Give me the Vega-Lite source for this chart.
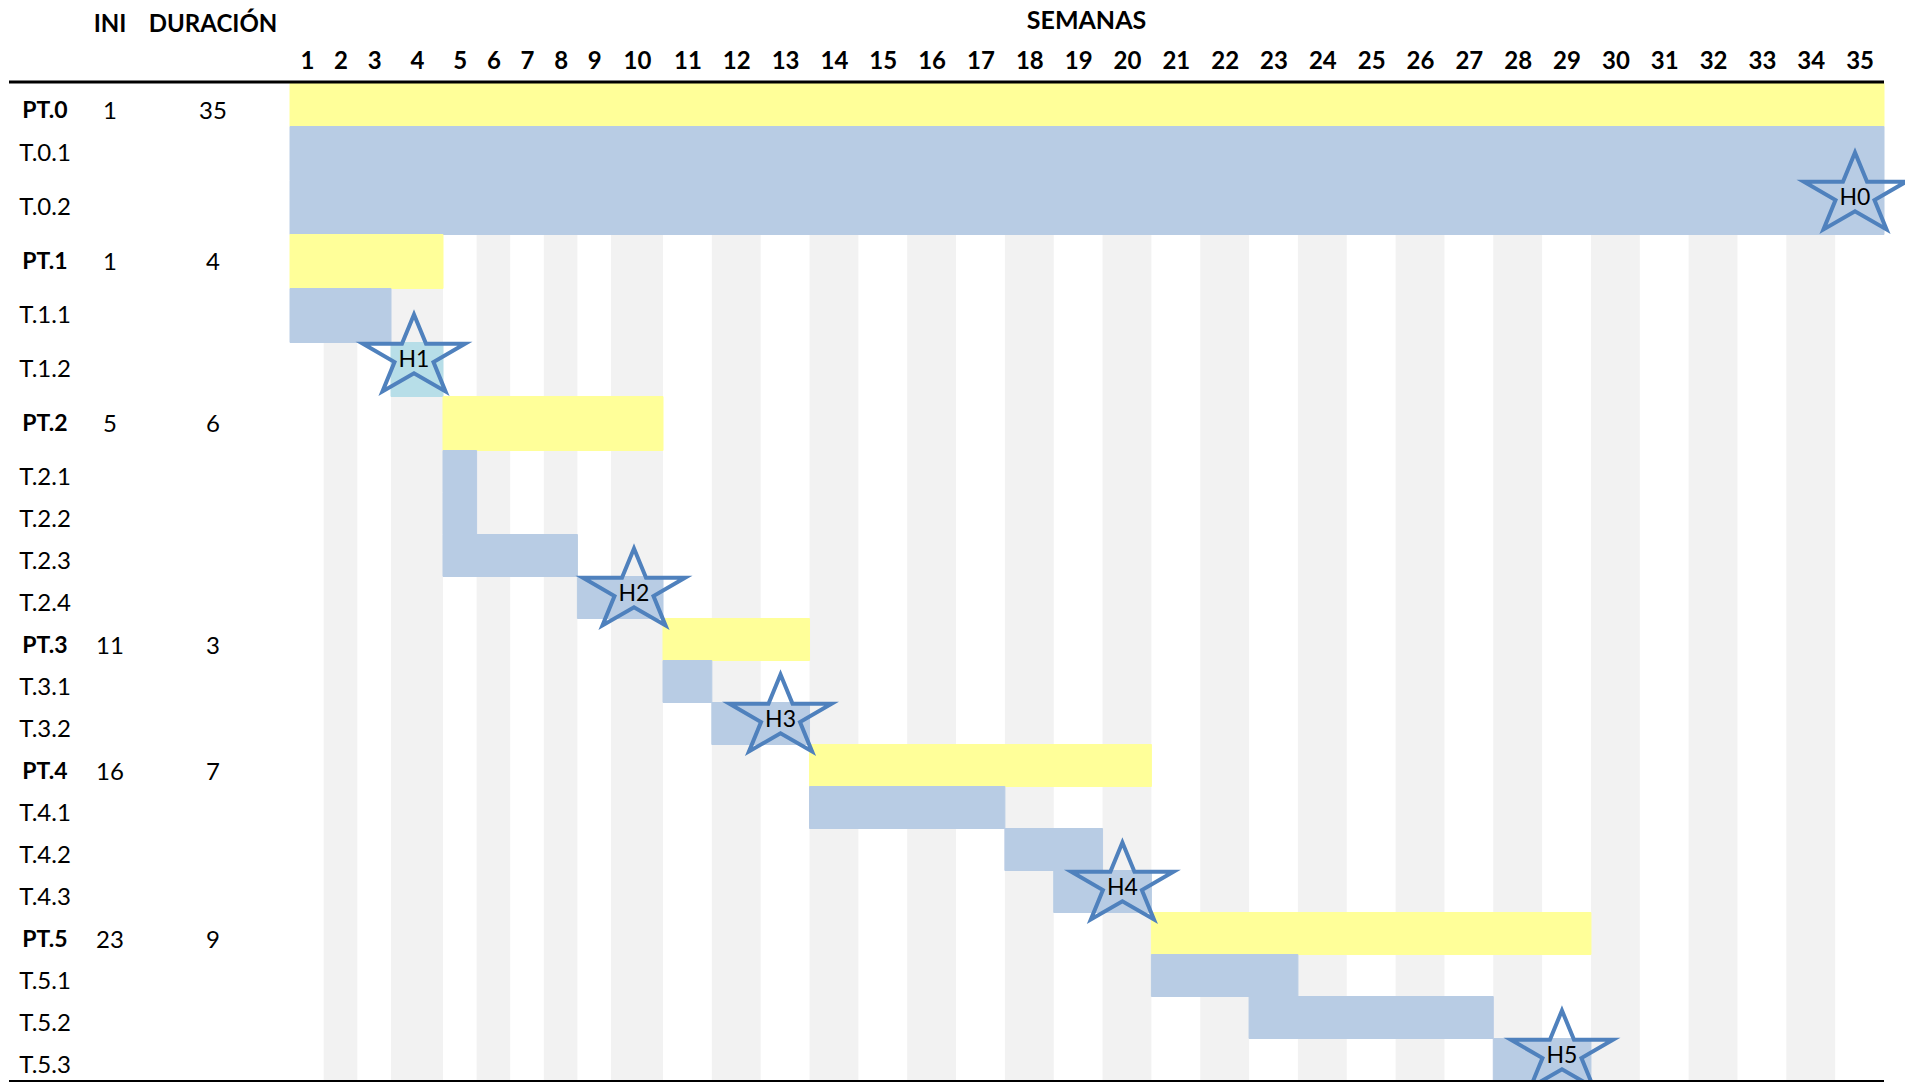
{
  "$schema": "https://vega.github.io/schema/vega-lite/v6.json",
  "width": 1875,
  "height": 997,
  "autosize": {"type": "none"},
  "padding": {"left": 9, "top": 83, "right": 21, "bottom": 2},
  "background": "#ffffff",
  "config": {"view": {"stroke": null}, "font": "Lato"},
  "datasets": {
    "tareas": [
      {"tarea": "PT.0", "tipo": "PT", "fila": 0, "ini": 1, "dur": 35, "desde": 0, "hasta": 35},
      {"tarea": "T.0.1", "tipo": "T", "fila": 1, "desde": 0, "hasta": 35},
      {"tarea": "T.0.2", "tipo": "T", "fila": 2, "desde": 0, "hasta": 35},
      {"tarea": "PT.1", "tipo": "PT", "fila": 3, "ini": 1, "dur": 4, "desde": 0, "hasta": 4},
      {"tarea": "T.1.1", "tipo": "T", "fila": 4, "desde": 0, "hasta": 3},
      {"tarea": "T.1.2", "tipo": "T", "fila": 5, "desde": 3, "hasta": 4},
      {"tarea": "PT.2", "tipo": "PT", "fila": 6, "ini": 5, "dur": 6, "desde": 4, "hasta": 10},
      {"tarea": "T.2.1", "tipo": "T", "fila": 7, "desde": 4, "hasta": 5},
      {"tarea": "T.2.2", "tipo": "T", "fila": 8, "desde": 4, "hasta": 5},
      {"tarea": "T.2.3", "tipo": "T", "fila": 9, "desde": 4, "hasta": 8},
      {"tarea": "T.2.4", "tipo": "T", "fila": 10, "desde": 8, "hasta": 10},
      {"tarea": "PT.3", "tipo": "PT", "fila": 11, "ini": 11, "dur": 3, "desde": 10, "hasta": 13},
      {"tarea": "T.3.1", "tipo": "T", "fila": 12, "desde": 10, "hasta": 11},
      {"tarea": "T.3.2", "tipo": "T", "fila": 13, "desde": 11, "hasta": 13},
      {"tarea": "PT.4", "tipo": "PT", "fila": 14, "ini": 16, "dur": 7, "desde": 13, "hasta": 20},
      {"tarea": "T.4.1", "tipo": "T", "fila": 15, "desde": 13, "hasta": 17},
      {"tarea": "T.4.2", "tipo": "T", "fila": 16, "desde": 17, "hasta": 19},
      {"tarea": "T.4.3", "tipo": "T", "fila": 17, "desde": 18, "hasta": 20},
      {"tarea": "PT.5", "tipo": "PT", "fila": 18, "ini": 23, "dur": 9, "desde": 20, "hasta": 29},
      {"tarea": "T.5.1", "tipo": "T", "fila": 19, "desde": 20, "hasta": 23},
      {"tarea": "T.5.2", "tipo": "T", "fila": 20, "desde": 22, "hasta": 27},
      {"tarea": "T.5.3", "tipo": "T", "fila": 21, "desde": 27, "hasta": 29}
    ],
    "semanas_pares": [
      {"semana": 2, "desde": 1, "hasta": 2}, {"semana": 4, "desde": 3, "hasta": 4},
      {"semana": 6, "desde": 5, "hasta": 6}, {"semana": 8, "desde": 7, "hasta": 8},
      {"semana": 10, "desde": 9, "hasta": 10}, {"semana": 12, "desde": 11, "hasta": 12},
      {"semana": 14, "desde": 13, "hasta": 14}, {"semana": 16, "desde": 15, "hasta": 16},
      {"semana": 18, "desde": 17, "hasta": 18}, {"semana": 20, "desde": 19, "hasta": 20},
      {"semana": 22, "desde": 21, "hasta": 22}, {"semana": 24, "desde": 23, "hasta": 24},
      {"semana": 26, "desde": 25, "hasta": 26}, {"semana": 28, "desde": 27, "hasta": 28},
      {"semana": 30, "desde": 29, "hasta": 30}, {"semana": 32, "desde": 31, "hasta": 32},
      {"semana": 34, "desde": 33, "hasta": 34}
    ],
    "hitos": [
      {"hito": "H0", "fila": 2, "semana": 35},
      {"hito": "H1", "fila": 5, "semana": 4},
      {"hito": "H2", "fila": 10, "semana": 10},
      {"hito": "H3", "fila": 13, "semana": 13},
      {"hito": "H4", "fila": 17, "semana": 20},
      {"hito": "H5", "fila": 21, "semana": 29}
    ]
  },
  "layer": [
    {
      "data": {"name": "semanas_pares"},
      "mark": {"type": "rect", "color": "#F2F2F2"},
      "encoding": {
        "x": {
          "field": "desde", "type": "quantitative",
          "scale": {"type": "linear", "domain": [-4, -3, -2, -1, 0, 3, 4, 9, 10, 35], "range": [0, 36, 101, 204, 281, 382, 434, 602, 654, 1875], "nice": false, "zero": false},
          "axis": {
            "orient": "top",
            "values": [0.5, 1.5, 2.5, 3.5, 4.5, 5.5, 6.5, 7.5, 8.5, 9.5, 10.5, 11.5, 12.5, 13.5, 14.5, 15.5, 16.5, 17.5, 18.5, 19.5, 20.5, 21.5, 22.5, 23.5, 24.5, 25.5, 26.5, 27.5, 28.5, 29.5, 30.5, 31.5, 32.5, 33.5, 34.5],
            "labelExpr": "format(datum.value + 0.5, 'd')",
            "grid": false, "ticks": false, "tickSize": 0, "domain": false,
            "labelFont": "Lato", "labelFontWeight": "bold", "labelFontSize": 24, "labelColor": "#000000",
            "labelBaseline": "alphabetic", "labelPadding": 15, "labelOverlap": false, "labelFlush": false,
            "title": "SEMANAS", "titleFont": "Lato", "titleFontWeight": "bold", "titleFontSize": 25, "titleColor": "#000000",
            "titleX": 1077, "titleY": -55, "titleAlign": "center", "titleBaseline": "alphabetic", "titleAngle": 0
          }
        },
        "x2": {"field": "hasta"},
        "y": {
          "datum": 3, "type": "quantitative",
          "scale": {"type": "linear", "domain": [-1, 0, 1, 7, 22], "range": [-51, 0, 43, 367, 997], "nice": false, "zero": false},
          "axis": null
        },
        "y2": {"datum": 22}
      }
    },
    {
      "data": {"name": "tareas"},
      "mark": {"type": "rect", "binSpacing": 0, "strokeWidth": 1},
      "encoding": {
        "x": {"field": "desde", "type": "quantitative"},
        "x2": {"field": "hasta"},
        "y": {"field": "fila", "type": "quantitative", "bin": {"binned": true, "step": 1}, "axis": null},
        "color": {
          "condition": {"test": "datum.tarea === 'T.1.2'", "value": "#B7DEE8"},
          "field": "tipo", "type": "nominal",
          "scale": {"domain": ["PT", "T"], "range": ["#FFFF99", "#B8CCE4"]},
          "legend": null
        },
        "stroke": {
          "condition": {"test": "datum.tarea === 'T.1.2'", "value": "#B7DEE8"},
          "field": "tipo", "type": "nominal",
          "scale": {"domain": ["PT", "T"], "range": ["#FFFF99", "#B8CCE4"]},
          "legend": null
        }
      }
    },
    {
      "data": {"name": "tareas"},
      "transform": [{"filter": "datum.tipo === 'PT'"}],
      "mark": {"type": "text", "font": "Lato", "fontWeight": "bold", "fontSize": 23, "align": "center", "baseline": "alphabetic", "dy": 35, "color": "#000000"},
      "encoding": {
        "x": {"datum": -3, "type": "quantitative"},
        "y": {"field": "fila", "type": "quantitative", "axis": null},
        "text": {"field": "tarea"}
      }
    },
    {
      "data": {"name": "tareas"},
      "transform": [{"filter": "datum.tipo === 'T'"}],
      "mark": {"type": "text", "font": "Lato", "fontWeight": "normal", "fontSize": 24, "align": "center", "baseline": "alphabetic", "dy": 35, "color": "#000000"},
      "encoding": {
        "x": {"datum": -3, "type": "quantitative"},
        "y": {"field": "fila", "type": "quantitative", "axis": null},
        "text": {"field": "tarea"}
      }
    },
    {
      "data": {"name": "tareas"},
      "transform": [{"filter": "datum.tipo === 'PT'"}],
      "mark": {"type": "text", "font": "Lato", "fontSize": 24, "align": "center", "baseline": "alphabetic", "dy": 36, "color": "#000000"},
      "encoding": {
        "x": {"datum": -2, "type": "quantitative"},
        "y": {"field": "fila", "type": "quantitative", "axis": null},
        "text": {"field": "ini"}
      }
    },
    {
      "data": {"name": "tareas"},
      "transform": [{"filter": "datum.tipo === 'PT'"}],
      "mark": {"type": "text", "font": "Lato", "fontSize": 24, "align": "center", "baseline": "alphabetic", "dy": 36, "color": "#000000"},
      "encoding": {
        "x": {"datum": -1, "type": "quantitative"},
        "y": {"field": "fila", "type": "quantitative", "axis": null},
        "text": {"field": "dur"}
      }
    },
    {
      "data": {"values": [{"encabezado": "INI", "columna": "ini"}]},
      "mark": {"type": "text", "font": "Lato", "fontWeight": "bold", "fontSize": 24, "align": "center", "baseline": "alphabetic", "color": "#000000"},
      "encoding": {
        "x": {"datum": -2, "type": "quantitative"},
        "y": {"datum": -1, "type": "quantitative", "axis": null},
        "text": {"field": "encabezado"}
      }
    },
    {
      "data": {"values": [{"encabezado": "DURACIÓN", "columna": "dur"}]},
      "mark": {"type": "text", "font": "Lato", "fontWeight": "bold", "fontSize": 24, "align": "center", "baseline": "alphabetic", "color": "#000000"},
      "encoding": {
        "x": {"datum": -1, "type": "quantitative"},
        "y": {"datum": -1, "type": "quantitative", "axis": null},
        "text": {"field": "encabezado"}
      }
    },
    {
      "data": {"name": "hitos"},
      "mark": {
        "type": "point",
        "shape": "M0,-0.834L0.236,-0.258L1,-0.258L0.382,0.098L0.618,0.675L0,0.319L-0.618,0.675L-0.382,0.098L-1,-0.258L-0.236,-0.258Z",
        "size": 10404, "filled": false, "color": "#4F81BD", "strokeWidth": 4, "opacity": 1,
        "xOffset": -29, "yOffset": 15
      },
      "encoding": {
        "x": {"field": "semana", "type": "quantitative"},
        "y": {"field": "fila", "type": "quantitative", "axis": null}
      }
    },
    {
      "data": {"name": "hitos"},
      "mark": {"type": "text", "font": "Lato", "fontSize": 23, "align": "center", "baseline": "middle", "dx": -29, "dy": 18, "color": "#000000"},
      "encoding": {
        "x": {"field": "semana", "type": "quantitative"},
        "y": {"field": "fila", "type": "quantitative", "axis": null},
        "text": {"field": "hito"}
      }
    },
    {
      "data": {"values": [{"linea": "encabezado"}]},
      "mark": {"type": "rule", "color": "#000000", "strokeWidth": 3, "yOffset": -1},
      "encoding": {
        "x": {"datum": -4, "type": "quantitative"},
        "x2": {"datum": 35},
        "y": {"datum": 0, "type": "quantitative", "axis": null}
      }
    },
    {
      "data": {"values": [{"linea": "pie"}]},
      "mark": {"type": "rule", "color": "#000000", "strokeWidth": 3, "yOffset": 1.5},
      "encoding": {
        "x": {"datum": -4, "type": "quantitative"},
        "x2": {"datum": 35},
        "y": {"datum": 22, "type": "quantitative", "axis": null}
      }
    }
  ]
}
